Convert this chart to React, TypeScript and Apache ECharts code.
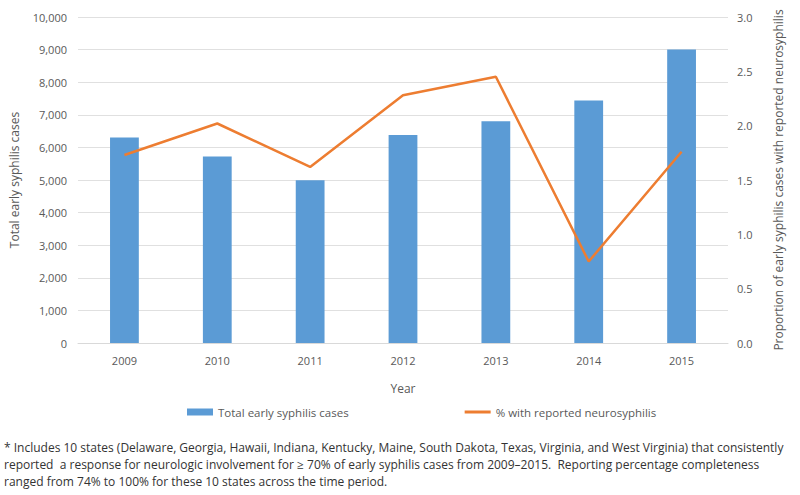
import React, { useEffect, useRef } from "react";
import * as echarts from "echarts";

const years = ["2009", "2010", "2011", "2012", "2013", "2014", "2015"];
const totalCases = [6300, 5720, 4990, 6380, 6800, 7440, 9000];
const pctNeuro = [1.73, 2.02, 1.62, 2.28, 2.45, 0.75, 1.76];
const footnoteLines = [
  "* Includes 10 states (Delaware, Georgia, Hawaii, Indiana, Kentucky, Maine, South Dakota, Texas, Virginia, and West Virginia) that consistently",
  "reported  a response for neurologic involvement for \u2265 70% of early syphilis cases from 2009\u20132015.  Reporting percentage completeness",
  "ranged from 74% to 100% for these 10 states across the time period.",
];

const FONT = "'Open Sans', 'Noto Sans', sans-serif";
const GRAY = "#595959";

export default function App() {
  const ref = useRef<HTMLDivElement>(null);
  useEffect(() => {
    const chart = echarts.init(ref.current!, null, { renderer: "svg" });
    chart.setOption({
      animation: false,
      backgroundColor: "#ffffff",
      grid: { left: 75, right: 72, top: 17, bottom: 152 },
      legend: {
        left: 182,
        top: 401,
        itemWidth: 26,
        itemHeight: 7,
        itemGap: 116,
        textStyle: { fontFamily: FONT, fontSize: 11.5, color: GRAY },
        data: [
          { name: "Total early syphilis cases", icon: "rect" },
          { name: "% with reported neurosyphilis", icon: "path://M0,0 L26,0 L26,3 L0,3 Z" },
        ],
      },
      xAxis: {
        type: "category",
        data: years,
        name: "Year",
        nameLocation: "middle",
        nameGap: 39,
        nameTextStyle: { fontFamily: FONT, fontSize: 12, color: GRAY },
        axisLine: { lineStyle: { color: "#d9d9d9" } },
        axisTick: { show: false },
        axisLabel: { fontFamily: FONT, fontSize: 11, color: GRAY, margin: 12 },
      },
      yAxis: [
        {
          type: "value",
          min: 0,
          max: 10000,
          interval: 1000,
          name: "Total early syphilis cases",
          nameLocation: "middle",
          nameGap: 58,
          nameTextStyle: { fontFamily: FONT, fontSize: 12, color: GRAY },
          axisLine: { show: false },
          axisTick: { show: false },
          splitLine: { lineStyle: { color: "#e0e0e0" } },
          axisLabel: {
            fontFamily: FONT,
            fontSize: 11,
            color: GRAY,
            margin: 11,
            formatter: (v: number) => v.toLocaleString("en-US"),
          },
        },
        {
          type: "value",
          min: 0,
          max: 3,
          interval: 0.5,
          name: "Proportion of early syphilis cases with reported neurosyphilis",
          nameLocation: "middle",
          nameGap: 44,
          nameRotate: 90,
          nameTextStyle: { fontFamily: FONT, fontSize: 12, color: GRAY },
          axisLine: { show: false },
          axisTick: { show: false },
          splitLine: { show: false },
          axisLabel: {
            fontFamily: FONT,
            fontSize: 11,
            color: GRAY,
            margin: 9,
            formatter: (v: number) => v.toFixed(1),
          },
        },
      ],
      series: [
        {
          name: "Total early syphilis cases",
          type: "bar",
          data: totalCases,
          barWidth: "31%",
          itemStyle: { color: "#5b9bd5" },
        },
        {
          name: "% with reported neurosyphilis",
          type: "line",
          yAxisIndex: 1,
          data: pctNeuro,
          symbol: "none",
          lineStyle: { color: "#ed7d31", width: 2.5 },
          itemStyle: { color: "#ed7d31" },
        },
      ],
      graphic: footnoteLines.map((t, i) => ({
        type: "text",
        left: 4,
        top: 441 + i * 17,
        style: { text: t, fontFamily: FONT, fontSize: 12, fill: "#333333" },
      })),
    });
    return () => chart.dispose();
  }, []);
  return <div ref={ref} style={{ width: 800, height: 495, position: "absolute", left: 0, top: 0 }} />;
}
